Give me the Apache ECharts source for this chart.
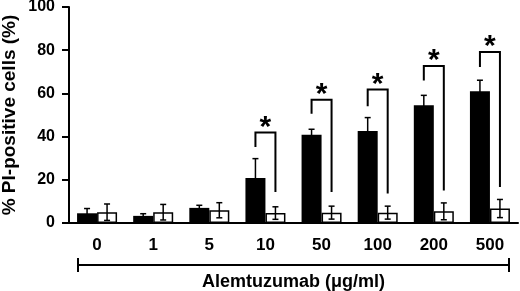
<!DOCTYPE html>
<html>
<head>
<meta charset="utf-8">
<script src="https://cdn.jsdelivr.net/npm/echarts@6/dist/echarts.min.js"></script>
<style>
  html, body { margin: 0; padding: 0; background: #fff; }
  #chart { width: 520px; height: 291px; }
</style>
</head>
<body>
<div id="chart"></div>
<script>
'use strict';
// doses on the x axis
var categories = ['0', '1', '5', '10', '50', '100', '200', '500'];
// black bars (treated) mean and SD
var treatedMean = [4.5, 3.3, 7.0, 20.8, 40.9, 42.6, 54.5, 61.0];
var treatedSd = [2.2, 1.0, 1.2, 9.0, 2.5, 6.2, 4.6, 5.1];
// white bars (control) mean and SD
var controlMean = [5.0, 5.0, 5.9, 4.6, 4.8, 4.8, 5.4, 6.7];
var controlSd = [3.8, 3.6, 3.5, 2.9, 3.0, 3.0, 3.9, 4.2];
// significance brackets: category index, top, left leg end, right leg end
var sigIndex = [3, 4, 5, 6, 7];
var sigTop = [41.9, 57.1, 61.8, 72.7, 79.2];
var sigLeftEnd = [35.2, 50.6, 54.0, 66.0, 72.2];
var sigRightEnd = [14.3, 14.3, 13.6, 15.1, 16.7];

var FONT = '"Liberation Sans", Arial, sans-serif';
var BAR_W = 20;

var chart = echarts.init(document.getElementById('chart'));

function errorData(means, sds) {
    return means.map(function (m, i) {
        return [i, m, sds[i]];
    });
}

// error bar drawn at a fixed pixel offset from the category centre
function makeErrorRender(offset) {
    return function (params, api) {
        var idx = api.value(0);
        var mean = api.value(1);
        var sd = api.value(2);
        var x = api.coord([idx, 0])[0] + offset;
        var yTop = api.coord([idx, mean + sd])[1];
        var yBot = api.coord([idx, Math.max(mean - sd, 0)])[1];
        var st = { stroke: '#000', lineWidth: 1.5 };
        return {
            type: 'group',
            children: [
                { type: 'line', shape: { x1: x, y1: yTop, x2: x, y2: yBot }, style: st },
                { type: 'line', shape: { x1: x - 3, y1: yTop, x2: x + 3, y2: yTop }, style: st },
                { type: 'line', shape: { x1: x - 3, y1: yBot, x2: x + 3, y2: yBot }, style: st }
            ]
        };
    };
}

var sigData = sigIndex.map(function (c, i) {
    return [c, sigTop[i], sigLeftEnd[i], sigRightEnd[i]];
});

var option = {
    animation: false,
    backgroundColor: '#fff',
    grid: { left: 69, right: 2, top: 7, bottom: 68, outerBoundsMode: 'none' },
    xAxis: {
        type: 'category',
        data: categories,
        name: 'Alemtuzumab (\u03bcg/ml)',
        nameLocation: 'middle',
        nameGap: 50,
        nameMoveOverlap: false,
        nameTextStyle: { fontFamily: FONT, fontWeight: 'bold', fontSize: 18, color: '#000' },
        axisLine: { lineStyle: { color: '#000', width: 2 } },
        axisTick: { show: false },
        axisLabel: { fontFamily: FONT, fontWeight: 'bold', fontSize: 17, color: '#000', margin: 14 }
    },
    yAxis: {
        type: 'value',
        min: 0,
        max: 100,
        interval: 20,
        name: '% PI-positive cells (%)',
        nameLocation: 'middle',
        nameGap: 50,
        nameMoveOverlap: false,
        nameTextStyle: { fontFamily: FONT, fontWeight: 'bold', fontSize: 19, color: '#000' },
        axisLine: { show: true, lineStyle: { color: '#000', width: 2 } },
        axisTick: { show: true, length: 7, lineStyle: { color: '#000', width: 2 } },
        splitLine: { show: false },
        axisLabel: { fontFamily: FONT, fontWeight: 'bold', fontSize: 16, color: '#000', margin: 14 }
    },
    series: [{
        name: 'treated',
        type: 'bar',
        data: treatedMean,
        barWidth: BAR_W,
        barGap: '0%',
        itemStyle: { color: '#000' }
    }, {
        name: 'control',
        type: 'bar',
        data: controlMean,
        barWidth: BAR_W,
        itemStyle: { color: '#fff', borderColor: '#000', borderWidth: 1.5 }
    }, {
        type: 'custom',
        data: errorData(treatedMean, treatedSd),
        encode: { x: 0, y: 1 },
        renderItem: makeErrorRender(-BAR_W / 2),
        z: 5
    }, {
        type: 'custom',
        data: errorData(controlMean, controlSd),
        encode: { x: 0, y: 1 },
        renderItem: makeErrorRender(BAR_W / 2),
        z: 5
    }, {
        // significance brackets with star
        type: 'custom',
        data: sigData,
        encode: { x: 0, y: 1 },
        z: 6,
        renderItem: function (params, api) {
            var idx = api.value(0);
            var cx = api.coord([idx, 0])[0];
            var xl = cx - BAR_W / 2;
            var xr = cx + BAR_W / 2;
            var yTop = api.coord([idx, api.value(1)])[1];
            var yL = api.coord([idx, api.value(2)])[1];
            var yR = api.coord([idx, api.value(3)])[1];
            return {
                type: 'group',
                children: [{
                    type: 'polyline',
                    shape: { points: [[xl, yL], [xl, yTop], [xr, yTop], [xr, yR]] },
                    style: { stroke: '#000', lineWidth: 2, fill: null }
                }, {
                    type: 'text',
                    x: cx,
                    y: yTop + 10,
                    style: {
                        text: '*',
                        fontFamily: FONT,
                        fontWeight: 'bold',
                        fontSize: 30,
                        fill: '#000',
                        align: 'center',
                        verticalAlign: 'bottom'
                    }
                }]
            };
        }
    }],
    graphic: [{
        // range bar under the dose labels
        type: 'polyline',
        shape: { points: [[78, 265], [509, 265]] },
        style: { stroke: '#000', lineWidth: 2 }
    }, {
        type: 'line',
        shape: { x1: 78, y1: 258, x2: 78, y2: 272 },
        style: { stroke: '#000', lineWidth: 2 }
    }, {
        type: 'line',
        shape: { x1: 509, y1: 258, x2: 509, y2: 272 },
        style: { stroke: '#000', lineWidth: 2 }
    }]
};

chart.setOption(option);
</script>
</body>
</html>
